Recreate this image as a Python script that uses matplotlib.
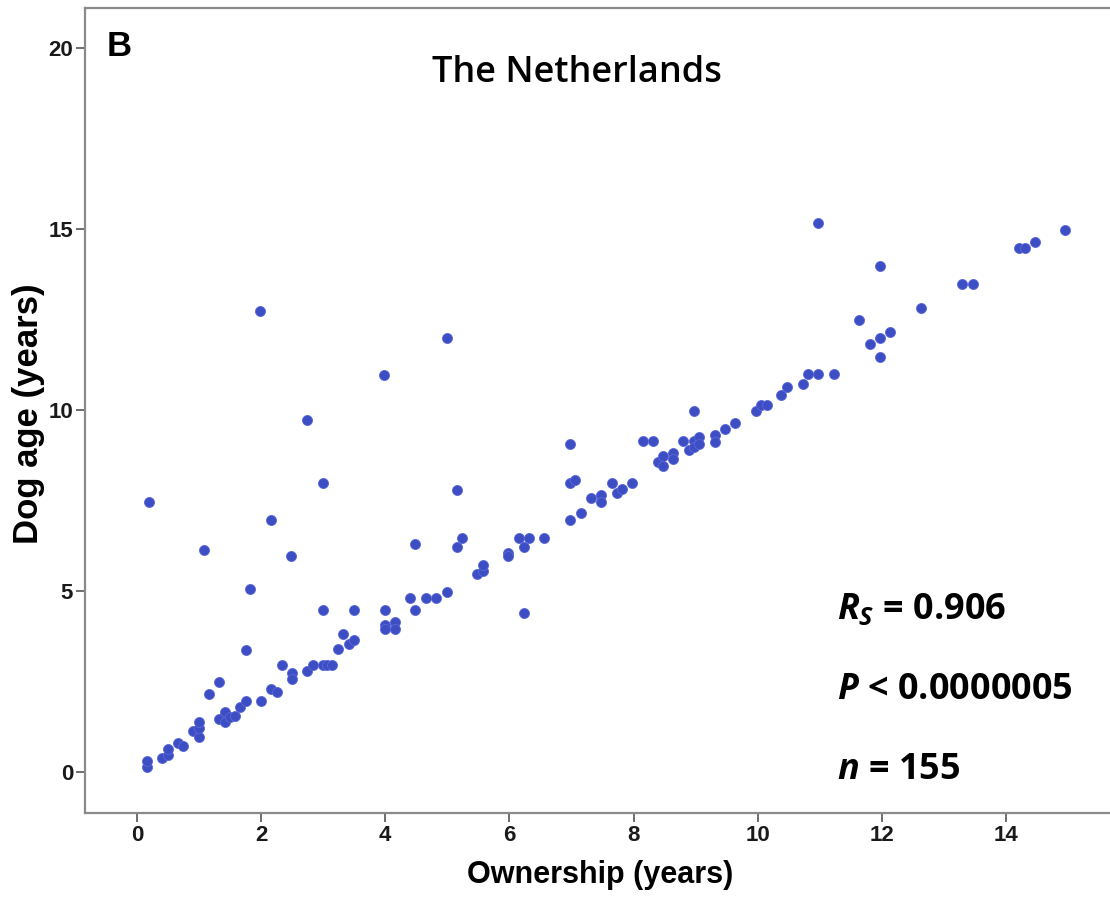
import matplotlib
matplotlib.use("Agg")
import matplotlib.pyplot as plt

# Ownership (years) and dog age (years)
ownership = [
    0.17, 0.17, 0.41, 0.50, 0.50, 0.66, 0.75, 0.91, 1.00, 1.00, 1.00, 1.16, 1.33, 1.33,
    1.42, 1.42, 1.50, 1.58, 1.66, 1.75, 1.75, 2.00, 2.16, 2.25, 2.33, 2.50, 2.50, 2.74,
    2.83, 2.99, 3.07, 3.15, 3.24, 3.32, 3.41, 3.49, 2.99, 3.49, 3.99, 3.99, 3.99, 4.15,
    4.15, 4.40, 4.48, 4.65, 4.82, 4.99, 5.48, 5.57, 5.57, 5.98, 5.98, 6.15, 6.32, 6.23,
    6.56, 6.98, 7.15, 6.98, 7.06, 7.31, 7.48, 7.48, 7.65, 7.73, 7.81, 7.98, 8.15, 8.31,
    8.39, 8.47, 8.47, 8.64, 8.64, 8.80, 8.89, 8.98, 8.98, 9.06, 9.06, 9.31, 9.31, 9.47,
    9.64, 9.97, 10.05, 10.14, 10.38, 10.47, 10.72, 10.80, 10.97, 11.22, 11.63, 11.80,
    11.96, 12.13, 11.96, 12.63, 13.29, 13.46, 14.20, 14.31, 14.46, 14.95,
    0.20, 1.08, 1.83, 1.99, 2.16, 2.49, 2.74, 2.99, 3.98, 4.48, 4.99, 5.15, 5.15, 5.24,
    6.23, 6.98, 8.98, 10.97, 11.96,
]
dog_age = [
    0.13, 0.31, 0.39, 0.47, 0.64, 0.81, 0.72, 1.14, 0.96, 1.21, 1.39, 2.15, 2.48, 1.47,
    1.65, 1.37, 1.51, 1.55, 1.80, 1.97, 3.38, 1.97, 2.30, 2.21, 2.97, 2.73, 2.56, 2.80,
    2.97, 2.97, 2.97, 2.97, 3.39, 3.80, 3.55, 3.64, 4.48, 4.48, 4.48, 4.06, 3.96, 4.15,
    3.96, 4.80, 4.48, 4.80, 4.80, 4.96, 5.47, 5.54, 5.73, 6.06, 5.97, 6.47, 6.47, 6.22,
    6.47, 6.97, 7.15, 7.98, 8.07, 7.56, 7.65, 7.46, 7.98, 7.72, 7.81, 7.98, 9.14, 9.14,
    8.55, 8.73, 8.46, 8.81, 8.64, 9.15, 8.90, 9.15, 8.98, 9.24, 9.05, 9.32, 9.12, 9.48,
    9.64, 9.97, 10.15, 10.15, 10.40, 10.64, 10.73, 10.98, 10.98, 10.98, 12.48, 11.82,
    11.98, 12.15, 11.47, 12.81, 13.48, 13.48, 14.48, 14.48, 14.64, 14.97,
    7.47, 6.14, 5.05, 12.73, 6.97, 5.97, 9.72, 7.97, 10.97, 6.30, 11.98, 7.80, 6.22, 6.47,
    4.39, 9.06, 9.98, 15.15, 13.98,
]

x_ticks = [0, 2, 4, 6, 8, 10, 12, 14]
y_ticks = [0, 5, 10, 15, 20]

title = "The Netherlands"
panel = "B"
x_label = "Ownership (years)"
y_label = "Dog age (years)"
stats = [r"$R_S$ = 0.906", r"$P$ < 0.0000005", r"$n$ = 155"]

plt.rcParams["mathtext.fontset"] = "custom"
plt.rcParams["mathtext.it"] = "Open Sans:italic:bold"
plt.rcParams["mathtext.rm"] = "Open Sans:bold"

W, H = 1110, 897
fig = plt.figure(figsize=(W / 100, H / 100), dpi=100)
ax = fig.add_axes([85 / W, 1 - 813 / H, (W - 85) / W + 0.01, (813 - 8) / H])

ax.scatter(ownership, dog_age, s=52, color="#3d4ec4", edgecolors="#5a68d8",
           linewidths=0.6, zorder=3)

ax.set_xlim(-0.835, 15.85)
ax.set_ylim(-1.13, 21.1)
ax.set_xticks(x_ticks)
ax.set_yticks(y_ticks)
ax.set_xticklabels([str(v) for v in x_ticks])
ax.set_yticklabels([str(v) for v in y_ticks])

for side in ["left", "top", "bottom"]:
    ax.spines[side].set_color("#8a8a8a")
    ax.spines[side].set_linewidth(1.6)
ax.spines["right"].set_visible(False)

ax.tick_params(axis="both", direction="out", length=6.5, width=1.2, color="#555555",
               pad=2, labelsize=16)
for lab in ax.get_xticklabels() + ax.get_yticklabels():
    lab.set_fontfamily("Liberation Sans")
    lab.set_fontweight("bold")
    lab.set_color("#1a1a1a")

fig.text(107 / W, 1 - 46 / H, panel, fontsize=25, fontweight="bold",
         family="Liberation Sans", ha="left", va="center")
fig.text(577 / W, 1 - 73 / H, title, fontsize=26, family="Open Sans",
         fontweight="semibold", ha="center", va="center")
fig.text(29 / W, 1 - 414 / H, y_label, fontsize=25, fontweight="bold",
         family="Liberation Sans", rotation=90, ha="center", va="center")
fig.text(600 / W, 1 - 875 / H, x_label, fontsize=22, fontweight="bold",
         family="Liberation Sans", ha="center", va="center")

for i, s in enumerate(stats):
    fig.text(837 / W, 1 - (610 + 80 * i) / H, s, fontsize=26, family="Open Sans",
             fontweight="bold", ha="left", va="center")

fig.savefig("out.png", dpi=100)
